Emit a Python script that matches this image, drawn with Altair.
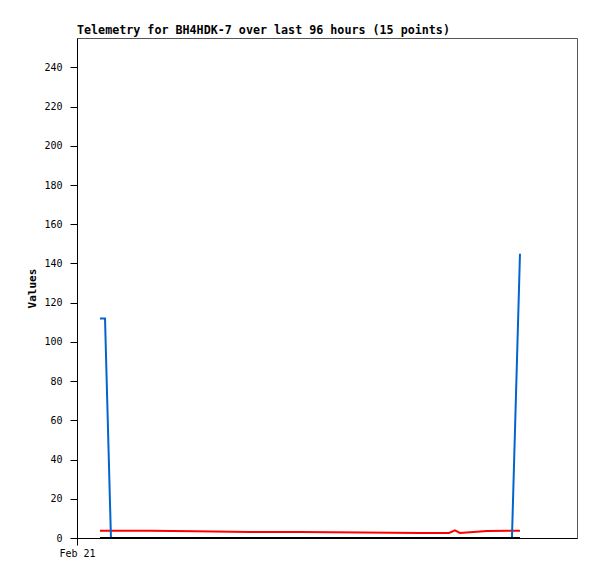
import altair as alt
import pandas as pd

# Timestamps (local time) of the 15 telemetry points
times = [
    "2024-02-21T04:58:00", "2024-02-21T06:03:00", "2024-02-21T07:20:00",
    "2024-02-21T15:46:00", "2024-02-22T01:29:00", "2024-02-22T13:22:00",
    "2024-02-23T00:10:00", "2024-02-23T13:46:00", "2024-02-24T02:05:00",
    "2024-02-24T08:21:00", "2024-02-24T09:38:00", "2024-02-24T10:43:00",
    "2024-02-24T16:33:00", "2024-02-24T21:57:00", "2024-02-24T23:41:00",
]
series_black = [0, 0, 0, 0, 0, 0, 0, 0, 0, 0, 0, 0, 0, 0, 0]
series_red = [3.7, 3.7, 3.7, 3.7, 3.4, 3.1, 3.1, 2.8, 2.6, 2.6, 3.9, 2.6, 3.6, 3.7, 3.7]
series_blue = [112, 112, 0, 0, 0, 0, 0, 0, 0, 0, 0, 0, 0, 0, 145]

# drawing order: red, blue, black (last on top)
series_names = ["1 red", "2 blue", "3 black"]
series_colors = ["#ff0000", "#0066cc", "#000000"]
y_ticks = list(range(0, 241, 20))

rows = []
for name, vals in zip(series_names, [series_red, series_blue, series_black]):
    for t, v in zip(times, vals):
        rows.append({"time": t, "value": v, "series": name})
df = pd.DataFrame(rows)

font = "DejaVu Sans Mono"

chart = alt.Chart(df).mark_line(strokeWidth=2).encode(
    x=alt.X(
        "time:T",
        scale=alt.Scale(
            domain=[
                alt.DateTime(year=2024, month=2, date=21, hours=0),
                alt.DateTime(year=2024, month=2, date=25, hours=12),
            ],
            nice=False,
        ),
        axis=alt.Axis(
            title=None,
            values=[alt.DateTime(year=2024, month=2, date=21, hours=0)],
            format="%b %d",
            grid=False,
            labelFlush=False,
            labelFont=font,
            labelFontSize=10,
            labelColor="#000000",
            tickSize=7,
            tickColor="#000000",
            domainColor="#000000",
            labelPadding=3,
        ),
    ),
    y=alt.Y(
        "value:Q",
        scale=alt.Scale(domain=[0, 255], nice=False, zero=True),
        axis=alt.Axis(
            title="Values",
            values=y_ticks,
            grid=False,
            labelFlush=False,
            labelFont=font,
            labelFontSize=10,
            labelColor="#000000",
            titleFont=font,
            titleFontSize=11,
            titleFontWeight="bold",
            titleColor="#000000",
            titlePadding=6,
            tickSize=7,
            tickColor="#000000",
            domainColor="#000000",
            labelPadding=8,
        ),
    ),
    color=alt.Color(
        "series:N",
        scale=alt.Scale(domain=series_names, range=series_colors),
        legend=None,
    ),
).properties(
    width=500,
    height=500,
    title=alt.TitleParams(
        "Telemetry for BH4HDK-7 over last 96 hours (15 points)",
        anchor="start",
        frame="group",
        font=font,
        fontSize=11.7,
        fontWeight="bold",
        color="#000000",
        offset=1,
    ),
    autosize=alt.AutoSizeParams(type="none"),
    padding={"left": 69, "top": 30, "right": 12, "bottom": 30},
).configure_view(
    stroke="#555555",
    strokeWidth=1,
)

chart.save("out.html", embed_options={"renderer": "svg", "actions": False})
